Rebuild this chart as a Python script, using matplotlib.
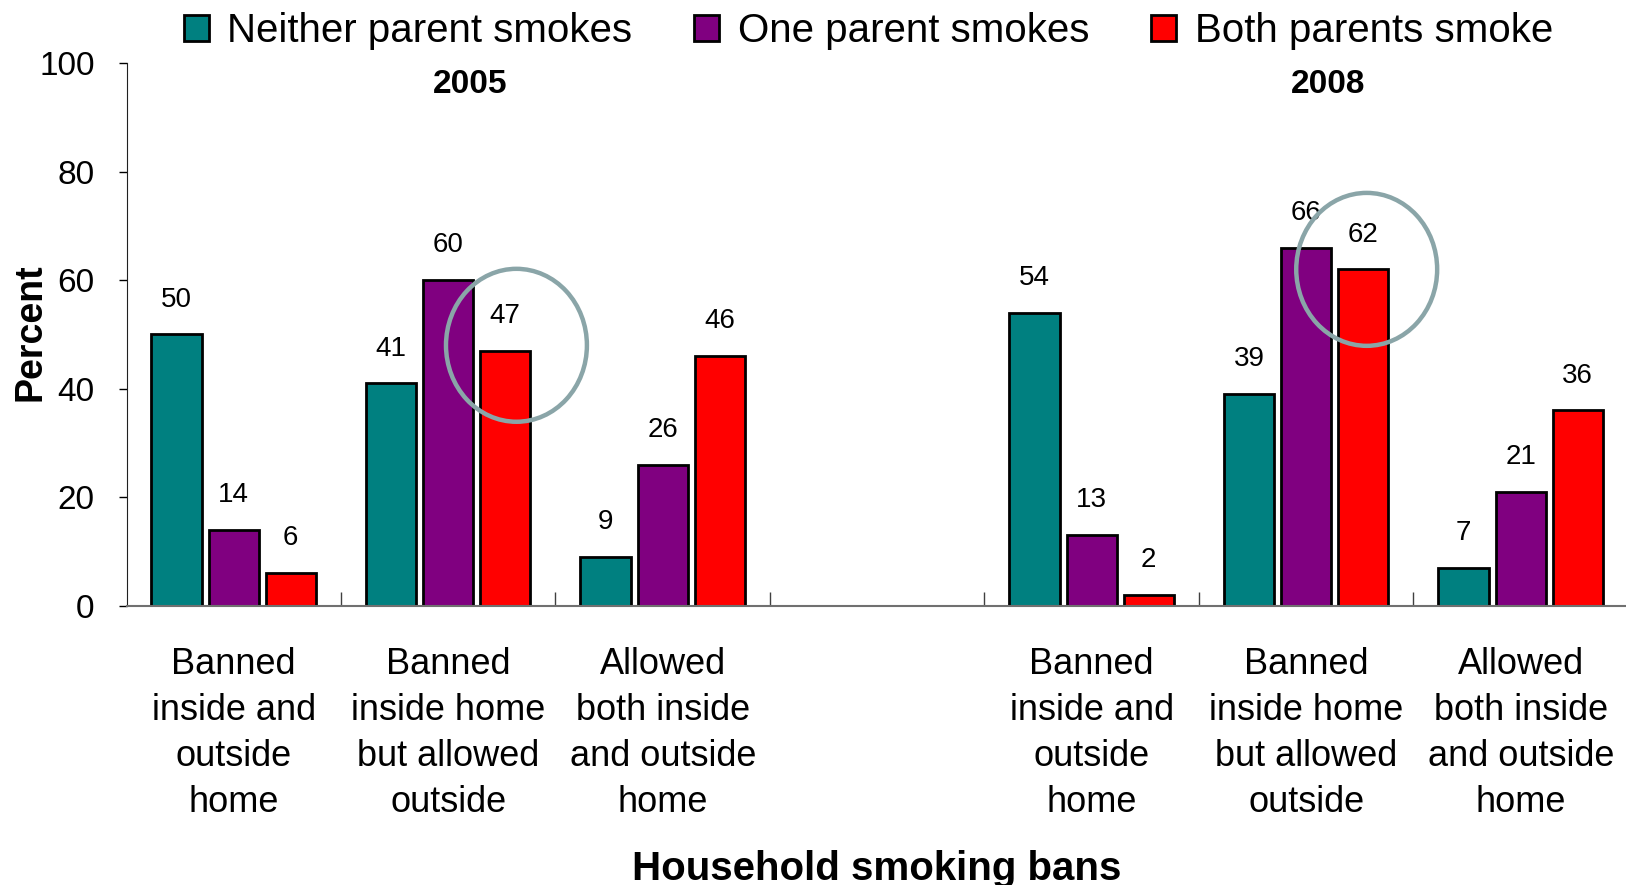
import numpy as np
import matplotlib.pyplot as plt
from matplotlib.patches import Patch, Ellipse

plt.rcParams['font.family'] = ['Liberation Sans', 'DejaVu Sans']

# household smoking ban categories (one empty slot separates the two years)
categories = ["Banned\ninside and\noutside\nhome",
              "Banned\ninside home\nbut allowed\noutside",
              "Allowed\nboth inside\nand outside\nhome"]
years = ["2005", "2008"]
series = ["Neither parent smokes", "One parent smokes", "Both parents smoke"]
colors = ["#008080", "#800080", "#FF0000"]

neither_2005 = [50, 41, 9]
one_2005 = [14, 60, 26]
both_2005 = [6, 47, 46]
neither_2008 = [54, 39, 7]
one_2008 = [13, 66, 21]
both_2008 = [2, 62, 36]

values = [neither_2005 + neither_2008,
          one_2005 + one_2008,
          both_2005 + both_2008]
slots = np.array([0, 1, 2, 4, 5, 6])
centers = slots + 0.5

fig = plt.figure(figsize=(16.26, 8.85), dpi=100)
ax = fig.add_axes([0.0778, 0.3157, 0.9234, 0.6128])

width = 0.235
step = 0.266
for k, (name, col, vals) in enumerate(zip(series, colors, values)):
    xs = centers + (k - 1) * step
    ax.bar(xs, vals, width=width, color=col, edgecolor="black", linewidth=2, label=name, zorder=2)
    for x, v in zip(xs, vals):
        ax.annotate(str(v), (x, v), xytext=(0, 25), textcoords="offset points",
                    ha="center", va="center", fontsize=20)

ax.set_xlim(0, 7)
ax.set_ylim(0, 100)
ax.set_yticks(np.arange(0, 101, 20))
ax.tick_params(axis="y", labelsize=24, length=6, width=1, pad=17, direction="out")

# category labels on major ticks, boundary marks on minor ticks
ax.set_xticks(centers)
ax.set_xticklabels(categories * 2, fontsize=26, linespacing=1.4)
ax.tick_params(axis="x", which="major", length=0, pad=30)
ax.set_xticks(np.arange(1, 7), minor=True)
ax.tick_params(axis="x", which="minor", length=10, width=1, direction="in", color="#404040")

for s in ["top", "right"]:
    ax.spines[s].set_visible(False)
ax.spines["left"].set_color("#202020")
ax.spines["bottom"].set_color("#707070")
ax.spines["bottom"].set_linewidth(1.5)

ax.set_ylabel("Percent", fontsize=27, fontweight="bold")
ax.yaxis.set_label_coords(-0.052, 0.505)
fig.text(0.539, 0.018, "Household smoking bans", ha="center", va="center",
         fontsize=29, fontweight="bold")

for yr, x in zip(years, [1.6, 5.6]):
    ax.text(x, 96, yr, ha="center", va="center", fontsize=24, fontweight="bold")

# highlight circles around the "both parents smoke" bars
for cx, cy in [(1.818, 48.0), (5.782, 62.0)]:
    ax.add_patch(Ellipse((cx, cy), 0.657, 28.2, fill=False, edgecolor="#8AA5A8",
                         linewidth=3.2, zorder=3, clip_on=False))

handles = [Patch(facecolor=c, edgecolor="black", linewidth=2) for c in colors]
fig.legend(handles, series, loc="center", bbox_to_anchor=(0.534, 0.965), ncol=3,
           frameon=False, fontsize=29, handlelength=0.62, handleheight=0.62,
           handletextpad=0.45, columnspacing=1.55, borderaxespad=0)

fig.savefig("out.png", dpi=100)
